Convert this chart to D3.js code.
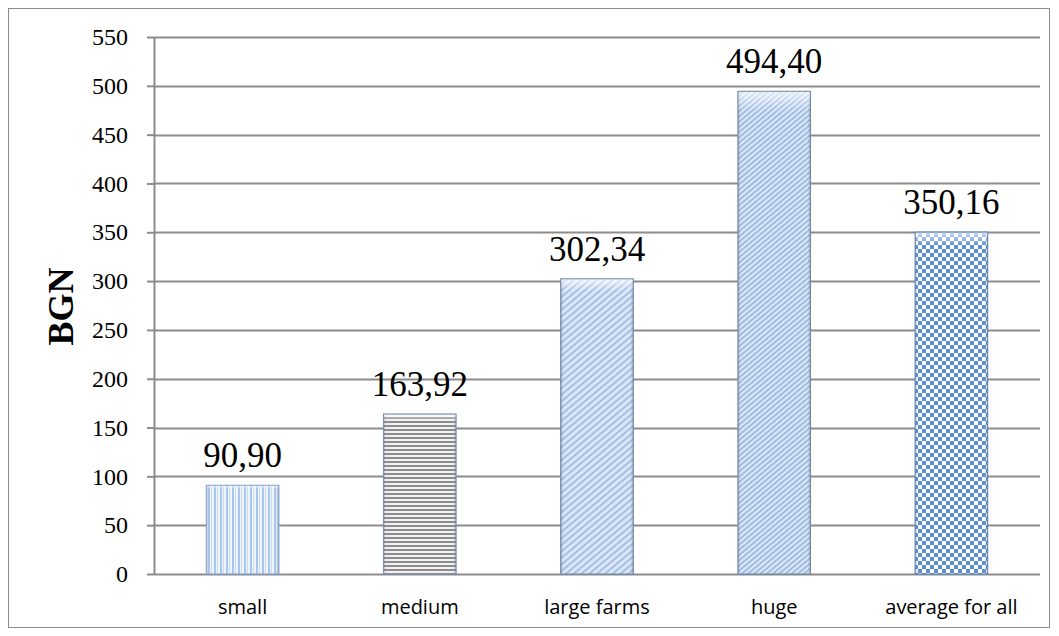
<!DOCTYPE html>
<html>
<head>
<meta charset="utf-8">
<script src="https://cdn.jsdelivr.net/npm/d3@7/dist/d3.min.js"></script>
<style>
  body { margin: 0; background: #fff; }
  svg { display: block; }
</style>
</head>
<body>
<div id="chart"></div>
<script>
var categories = ["small", "medium", "large farms", "huge", "average for all"];
var values = [90.90, 163.92, 302.34, 494.40, 350.16];
var labels = ["90,90", "163,92", "302,34", "494,40", "350,16"];
var yTicks = [0, 50, 100, 150, 200, 250, 300, 350, 400, 450, 500, 550];

var W = 1059, H = 636;
var margin = {left: 154, right: 19, top: 37, bottom: 62};
var width = W - margin.left - margin.right;
var height = H - margin.top - margin.bottom;

var svg = d3.select("#chart").append("svg").attr("width", W).attr("height", H);
var defs = svg.append("defs");

// patterns
var p1 = defs.append("pattern").attr("id", "pVert").attr("patternUnits", "userSpaceOnUse")
  .attr("width", 6).attr("height", 6);
p1.append("rect").attr("width", 6).attr("height", 6).attr("fill", "#eef4fc");
p1.append("rect").attr("x", 0).attr("width", 2).attr("height", 6).attr("fill", "#a9c6ec");
p1.append("rect").attr("x", 3).attr("width", 1).attr("height", 6).attr("fill", "#c9dcf4");

var p2 = defs.append("pattern").attr("id", "pHorz").attr("patternUnits", "userSpaceOnUse")
  .attr("width", 6).attr("height", 4);
p2.append("rect").attr("width", 6).attr("height", 4).attr("fill", "#f2f2f2");
p2.append("rect").attr("y", 0).attr("width", 6).attr("height", 2).attr("fill", "#8c8c8c");

var p3 = defs.append("pattern").attr("id", "pDiag").attr("patternUnits", "userSpaceOnUse")
  .attr("width", 5).attr("height", 5).attr("patternTransform", "rotate(-40)");
p3.append("rect").attr("width", 5).attr("height", 5).attr("fill", "#dbe7f6");
p3.append("rect").attr("width", 5).attr("height", 2).attr("fill", "#a4bfe2");

var p4 = defs.append("pattern").attr("id", "pDiag2").attr("patternUnits", "userSpaceOnUse")
  .attr("width", 4).attr("height", 4).attr("patternTransform", "rotate(-40)");
p4.append("rect").attr("width", 4).attr("height", 4).attr("fill", "#dde9f7");
p4.append("rect").attr("width", 4).attr("height", 2).attr("fill", "#a0bce2");

var p5 = defs.append("pattern").attr("id", "pCheck").attr("patternUnits", "userSpaceOnUse")
  .attr("width", 8).attr("height", 8);
p5.append("rect").attr("width", 8).attr("height", 8).attr("fill", "#ffffff");
p5.append("rect").attr("width", 4).attr("height", 4).attr("fill", "#5b8fd3");
p5.append("rect").attr("x", 4).attr("y", 4).attr("width", 4).attr("height", 4).attr("fill", "#5b8fd3");

var fills = ["url(#pVert)", "url(#pHorz)", "url(#pDiag)", "url(#pDiag2)", "url(#pCheck)"];
var edges = ["#7f9fcf", "#7d8fb0", "#6f86a8", "#6f86a8", "#5a7fb5"];

// bevel gradients
var gx = defs.append("linearGradient").attr("id", "bevelX").attr("x1", 0).attr("x2", 1).attr("y1", 0).attr("y2", 0);
gx.append("stop").attr("offset", "0").attr("stop-color", "#334a6a").attr("stop-opacity", 0.35);
gx.append("stop").attr("offset", "0.06").attr("stop-color", "#ffffff").attr("stop-opacity", 0);
gx.append("stop").attr("offset", "0.94").attr("stop-color", "#ffffff").attr("stop-opacity", 0);
gx.append("stop").attr("offset", "1").attr("stop-color", "#334a6a").attr("stop-opacity", 0.4);

var gy = defs.append("linearGradient").attr("id", "bevelY").attr("x1", 0).attr("x2", 0).attr("y1", 0).attr("y2", 1);
gy.append("stop").attr("offset", "0").attr("stop-color", "#ffffff").attr("stop-opacity", 0.7);
gy.append("stop").attr("offset", "0.04").attr("stop-color", "#ffffff").attr("stop-opacity", 0);
gy.append("stop").attr("offset", "1").attr("stop-color", "#ffffff").attr("stop-opacity", 0);

// outer border
svg.append("rect").attr("x", 8.5).attr("y", 8.5).attr("width", 1041).attr("height", 619)
  .attr("fill", "none").attr("stroke", "#8c8c8c").attr("stroke-width", 1);

var g = svg.append("g").attr("transform", "translate(" + margin.left + "," + margin.top + ")");

var x = d3.scaleBand().domain(categories).range([0, width]).paddingInner(0.59).paddingOuter(0.295);
var y = d3.scaleLinear().domain([0, 550]).range([height, 0]);

// gridlines
g.append("g").selectAll("line").data(yTicks).enter().append("line")
  .attr("x1", 0).attr("x2", width)
  .attr("y1", function(d) { return Math.round(y(d)) + 0.5; })
  .attr("y2", function(d) { return Math.round(y(d)) + 0.5; })
  .attr("stroke", "#8c8c8c").attr("stroke-width", 2);

// y axis
var yAxis = d3.axisLeft(y).tickValues(yTicks).tickSize(7).tickPadding(19).tickFormat(d3.format("d"));
var ya = g.append("g").attr("class", "axis y").call(yAxis);
ya.attr("font-family", null);
ya.select(".domain").attr("stroke", "#8c8c8c").attr("stroke-width", 2).attr("d", "M0.5,0V" + height);
ya.selectAll(".tick line").attr("stroke", "#8c8c8c").attr("stroke-width", 2);
ya.selectAll(".tick text").style("font-family", "'Liberation Serif', 'Times New Roman', serif")
  .attr("font-size", 24).attr("fill", "#000");

// bars
var bars = g.selectAll(".bar").data(values).enter().append("g").attr("class", "bar");
bars.append("rect")
  .attr("x", function(d, i) { return x(categories[i]); })
  .attr("y", function(d) { return y(d); })
  .attr("width", x.bandwidth())
  .attr("height", function(d) { return height - y(d); })
  .attr("fill", function(d, i) { return fills[i]; });
bars.append("rect")
  .attr("x", function(d, i) { return x(categories[i]); })
  .attr("y", function(d) { return y(d); })
  .attr("width", x.bandwidth())
  .attr("height", function(d) { return height - y(d); })
  .attr("fill", "url(#bevelX)");
bars.append("rect")
  .attr("x", function(d, i) { return x(categories[i]); })
  .attr("y", function(d) { return y(d); })
  .attr("width", x.bandwidth())
  .attr("height", function(d) { return height - y(d); })
  .attr("fill", "url(#bevelY)")
  .attr("stroke", function(d, i) { return edges[i]; }).attr("stroke-width", 1);

// data labels
g.selectAll(".lbl").data(values).enter().append("text")
  .attr("x", function(d, i) { return x(categories[i]) + x.bandwidth() / 2; })
  .attr("y", function(d) { return y(d) - 18; })
  .attr("text-anchor", "middle")
  .attr("font-family", "Liberation Serif, Times New Roman, serif")
  .attr("font-size", 35).attr("fill", "#000")
  .text(function(d, i) { return labels[i]; });

// x axis labels
g.selectAll(".cat").data(categories).enter().append("text")
  .attr("x", function(d) { return x(d) + x.bandwidth() / 2; })
  .attr("y", height + 40)
  .attr("text-anchor", "middle")
  .attr("font-family", "Open Sans, Liberation Sans, sans-serif")
  .attr("font-size", 20).attr("fill", "#000")
  .text(function(d) { return d; });

// y axis title
svg.append("text")
  .attr("transform", "translate(73," + (margin.top + height / 2 + 1) + ") rotate(-90)")
  .attr("text-anchor", "middle")
  .attr("font-family", "Liberation Serif, Times New Roman, serif")
  .attr("font-weight", "bold").attr("font-size", 36).attr("fill", "#000")
  .text("BGN");
</script>
</body>
</html>
